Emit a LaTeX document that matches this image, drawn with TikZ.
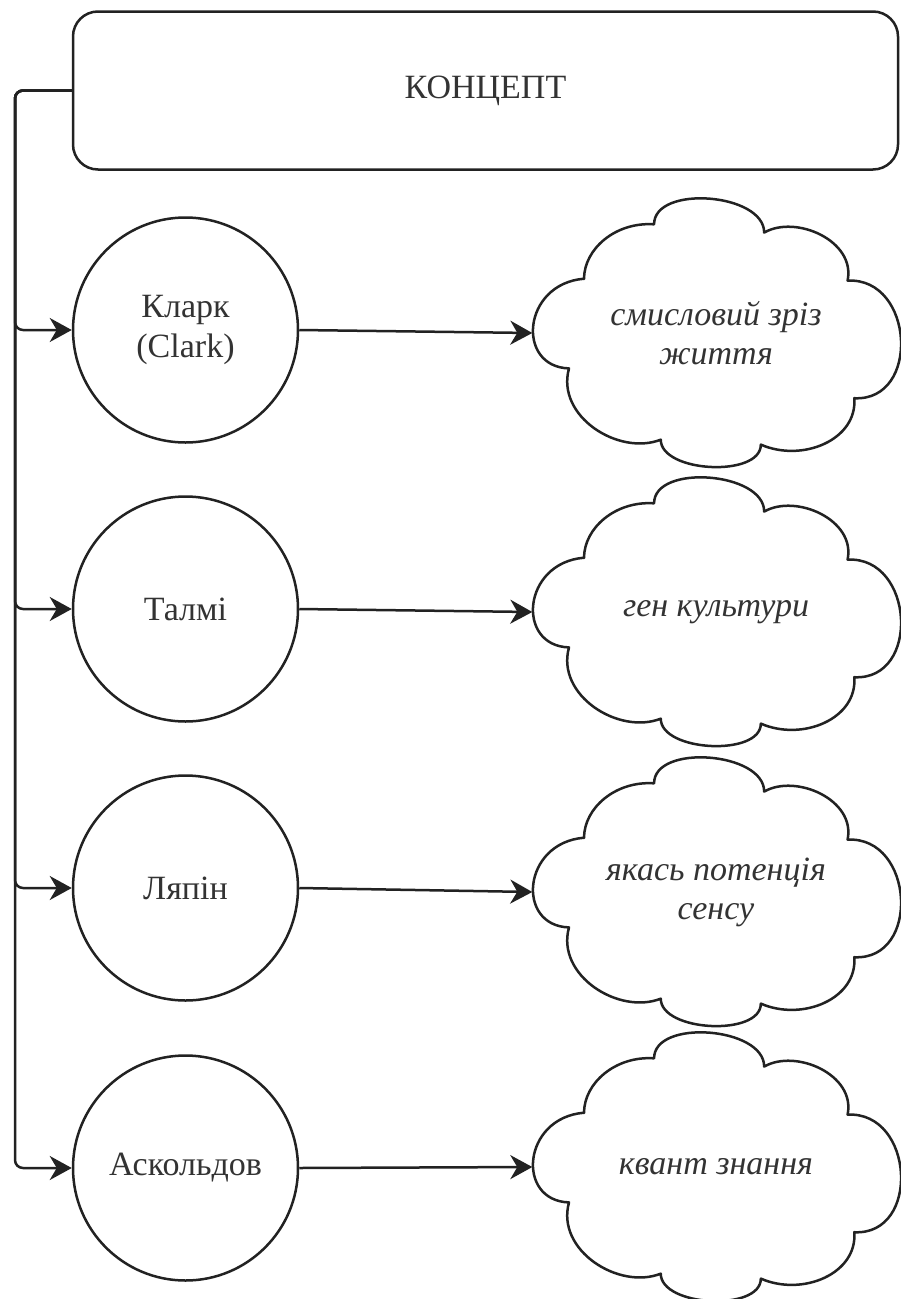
\documentclass[tikz,border=0pt]{standalone}
\usepackage{fontspec}
\setmainfont{Liberation Serif}
\usetikzlibrary{arrows.meta}
\definecolor{ink}{HTML}{222222}
\definecolor{txt}{HTML}{333333}
\tikzset{
  lw/.style={line width=2.5pt, draw=ink},
  topbox/.style={lw, rectangle, rounded corners=25pt, minimum width=825pt, minimum height=158pt,
    text=txt, font=\fontsize{34}{40}\selectfont},
  author/.style={lw, circle, minimum size=225pt, inner sep=0pt, align=center,
    text=txt, font=\fontsize{34}{40}\selectfont},
  cloudbox/.style={rectangle, minimum width=367pt, minimum height=270pt, inner sep=0pt,
    align=center, text=txt, font=\fontsize{34}{39}\selectfont\itshape},
  conn/.style={lw, -{Stealth[length=22pt, width=24pt, inset=7pt]}},
  branch/.style={conn, rounded corners=8pt},
  cloudline/.style={lw, line join=round}
}
\newcommand\cloudoutline[1]{%
  \begin{scope}[shift={(#1.north west)}, xscale=367, yscale=270]
    \draw[cloudline] (0.1409,0.3006)
      .. controls (0.1409,0.1890) and (0.2273,0.0883) .. (0.3318,0.0982)
      .. controls (0.3318,-0.0491) and (0.6318,-0.0184) .. (0.6318,0.1288)
      .. controls (0.7182,0.0613) and (0.8818,0.1595) .. (0.8591,0.3067)
      .. controls (1.0409,0.2945) and (1.0591,0.7546) .. (0.8773,0.7423)
      .. controls (0.8864,0.8957) and (0.7364,0.9816) .. (0.6227,0.9141)
      .. controls (0.6227,1.0368) and (0.35,1.0184) .. (0.35,0.8957)
      .. controls (0.2364,0.9571) and (0.0636,0.8098) .. (0.1,0.6319)
      .. controls (-0.0455,0.6258) and (-0.0273,0.3190) .. cycle;
  \end{scope}}
\begin{document}
\begin{tikzpicture}[x=1pt, y=-1pt]
  \useasboundingbox (0,0) rectangle (900,1299);
  \fill[white] (0,0) rectangle (900,1299);

  \node[topbox] (top) at (485.5,90.5) {КОНЦЕПТ};

  \node[author] (c1) at (185.5,330) {Кларк\\(Clark)};
  \node[author] (c2) at (185.5,609) {Талмі};
  \node[author] (c3) at (185.5,888) {Ляпін};
  \node[author] (c4) at (185.5,1168) {Аскольдов};

  \node[cloudbox] (k1) at (716,333) {смисловий зріз\\життя};
  \node[cloudbox] (k2) at (716,612) {ген культури};
  \node[cloudbox] (k3) at (716,892) {якась потенція\\сенсу};
  \node[cloudbox] (k4) at (716,1167) {квант знання};

  \cloudoutline{k1}
  \cloudoutline{k2}
  \cloudoutline{k3}
  \cloudoutline{k4}

  \coordinate (trunk) at (15,0);
  \foreach \c in {c1,c2,c3,c4}{
    \draw[branch] (top.west) -- (top.west -| trunk) |- (\c.west);
  }

  \draw[conn] (c1.east) -- (k1.west);
  \draw[conn] (c2.east) -- (k2.west);
  \draw[conn] (c3.east) -- (k3.west);
  \draw[conn] (c4.east) -- (k4.west);
\end{tikzpicture}
\end{document}
